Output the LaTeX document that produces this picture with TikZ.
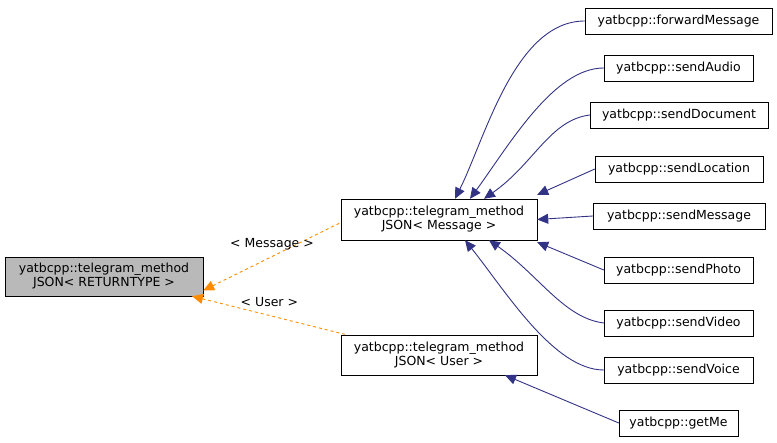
\documentclass[tikz,border=0pt]{standalone}
\usepackage{fontspec}
\setmainfont{DejaVu Sans}
\usetikzlibrary{arrows.meta,positioning}
\begin{document}
\begin{tikzpicture}[x=1pt,y=-1pt]

  % Styles
  \tikzset{
    cls/.style={draw,fill=white,font=\fontsize{12.5}{14}\selectfont,align=center,inner sep=2pt,minimum height=26pt},
    base/.style={cls,fill=gray!55,minimum height=39pt},
    tmpl/.style={cls,minimum height=41pt},
    inh/.style={draw=blue!40!black!80,{Triangle[length=11pt,width=10pt]}-,line width=0.9pt},
    inst/.style={draw=orange!90!yellow,{Triangle[length=11pt,width=10pt]}-,dashed,line width=0.9pt},
    lbl/.style={font=\fontsize{12.5}{14}\selectfont}
  }

  \useasboundingbox (0,0) rectangle (777,443);

  % Nodes
  \node[base,minimum width=198pt] (root) at (104,276.5) {yatbcpp::telegram\_method\\JSON< RETURNTYPE >};
  \node[tmpl,minimum width=196pt] (msg) at (439,219.5) {yatbcpp::telegram\_method\\JSON< Message >};
  \node[tmpl,minimum width=196pt,minimum height=40pt] (usr) at (439,355) {yatbcpp::telegram\_method\\JSON< User >};

  \node[cls,minimum width=187pt] (fwd) at (678.5,21) {yatbcpp::forwardMessage};
  \node[cls,minimum width=149pt] (audio) at (678.5,68) {yatbcpp::sendAudio};
  \node[cls,minimum width=178pt] (doc) at (679,115) {yatbcpp::sendDocument};
  \node[cls,minimum width=168pt] (loc) at (679,169) {yatbcpp::sendLocation};
  \node[cls,minimum width=172pt] (smsg) at (679,216) {yatbcpp::sendMessage};
  \node[cls,minimum width=149pt] (photo) at (678.5,270) {yatbcpp::sendPhoto};
  \node[cls,minimum width=149pt] (video) at (678.5,323) {yatbcpp::sendVideo};
  \node[cls,minimum width=149pt] (voice) at (678.5,370) {yatbcpp::sendVoice};
  \node[cls,minimum width=119pt] (getme) at (678.5,423) {yatbcpp::getMe};

  % Inheritance
  \draw[inh] ([xshift=16pt]msg.north) .. controls +(30,-60) and +(-70,0) .. (fwd.west);
  \draw[inh] ([xshift=31pt]msg.north) .. controls +(40,-55) and +(-50,0) .. (audio.west);
  \draw[inh] ([xshift=45pt]msg.north) .. controls +(50,-35) and +(-40,5) .. (doc.west);
  \draw[inh] ([yshift=4pt]msg.north east) -- (loc.west);
  \draw[inh] (msg.east) -- (smsg.west);
  \draw[inh] ([yshift=-2pt]msg.south east) -- (photo.west);
  \draw[inh] ([xshift=50pt]msg.south) .. controls +(50,35) and +(-40,-5) .. (video.west);
  \draw[inh] ([xshift=26pt]msg.south) .. controls +(40,50) and +(-50,0) .. (voice.west);
  \draw[inh] ([xshift=66pt]usr.south) -- (getme.west);

  % Template instances
  \draw[inst] ([yshift=-14pt]root.east) -- node[lbl,above,pos=0.5,yshift=3pt] {< Message >} ([yshift=-3pt]msg.west);
  \draw[inst] ([xshift=88pt]root.south) -- node[lbl,above,pos=0.5,yshift=5pt] {< User >} ([xshift=6pt]usr.north west);

\end{tikzpicture}
\end{document}
